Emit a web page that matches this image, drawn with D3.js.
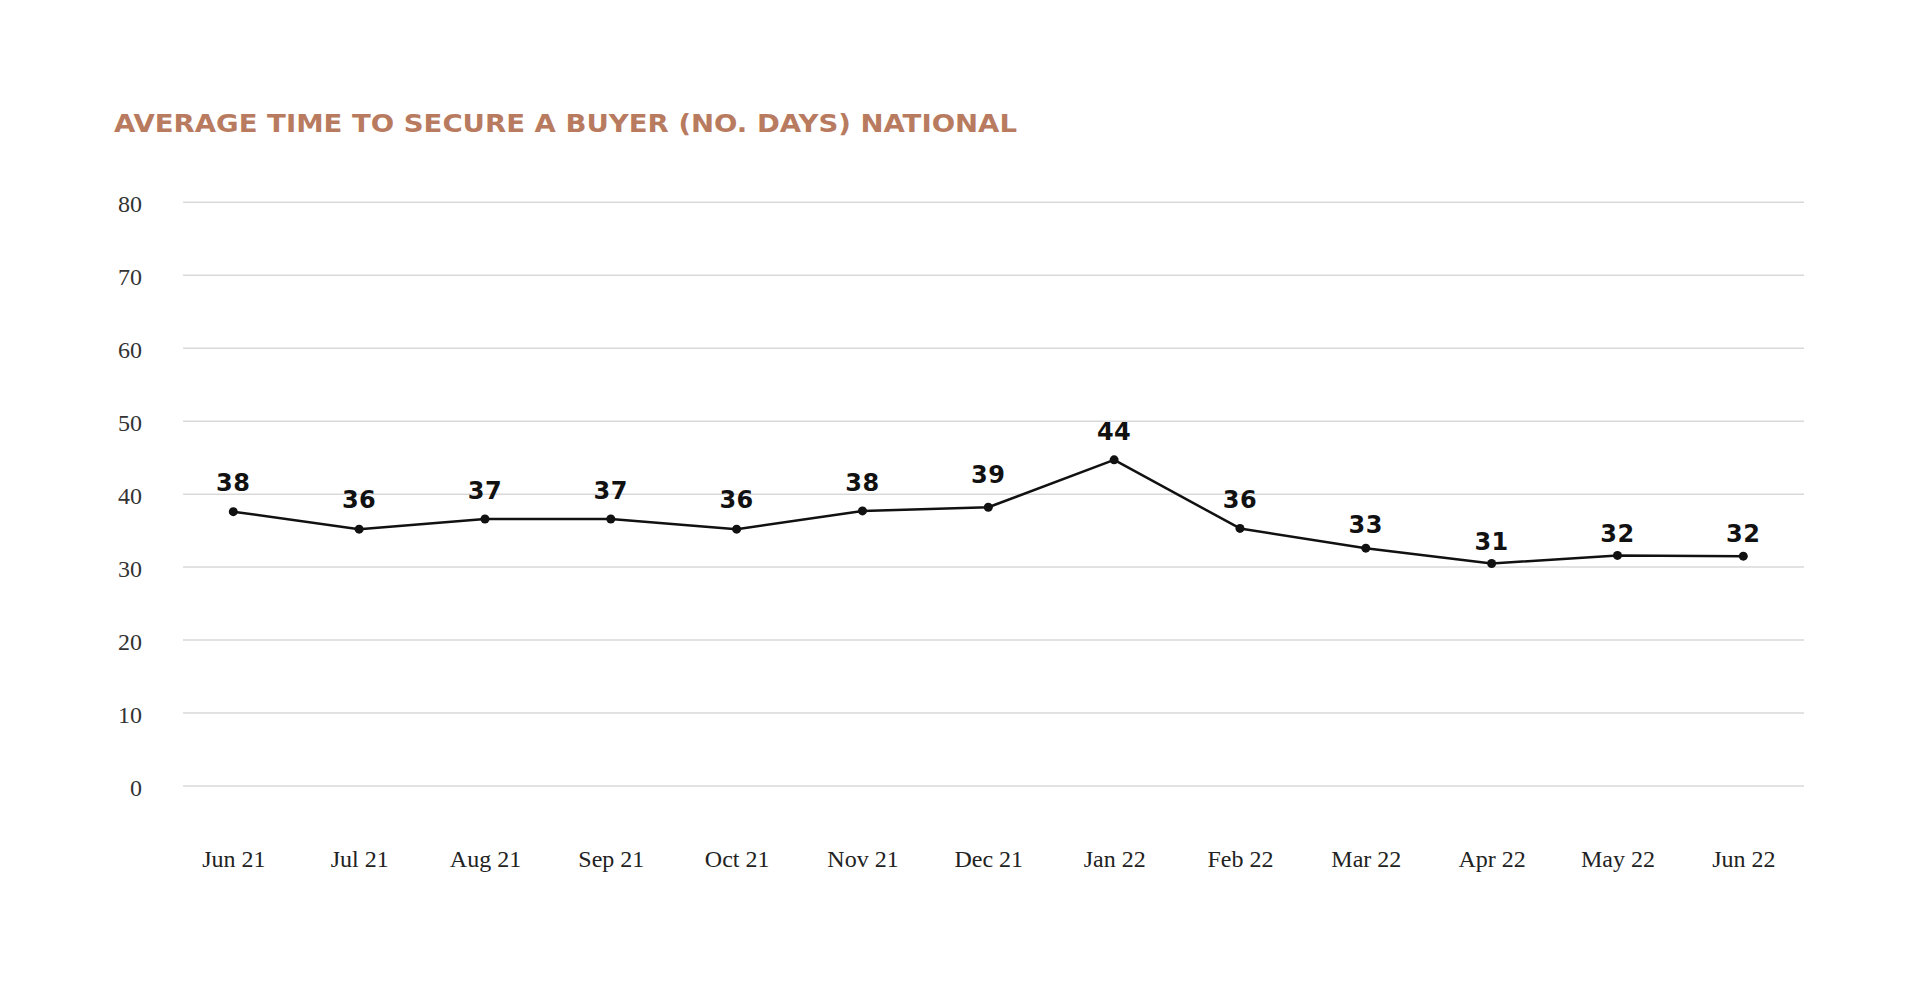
<!DOCTYPE html>
<html>
<head>
<meta charset="utf-8">
<script src="https://cdn.jsdelivr.net/npm/d3@7"></script>
<style>
  html, body { margin: 0; padding: 0; background: #ffffff; }
  svg { display: block; }
</style>
</head>
<body>
<svg id="chart" width="1920" height="982"></svg>
<script>
const title = "AVERAGE TIME TO SECURE A BUYER (NO. DAYS) NATIONAL";
const months = ["Jun 21","Jul 21","Aug 21","Sep 21","Oct 21","Nov 21","Dec 21","Jan 22","Feb 22","Mar 22","Apr 22","May 22","Jun 22"];
const values = [37.6, 35.2, 36.6, 36.6, 35.2, 37.7, 38.2, 44.7, 35.3, 32.6, 30.5, 31.6, 31.5];
const valueLabels = ["38","36","37","37","36","38","39","44","36","33","31","32","32"];
const yTicks = [0, 10, 20, 30, 40, 50, 60, 70, 80];

const svg = d3.select("#chart");

const x = d3.scalePoint().domain(months).range([233.3, 1743.3]);
const y = d3.scaleLinear().domain([0, 80]).range([786, 202.3]);
const gridX1 = 183, gridX2 = 1804;

// label placement scale (labels sit higher for larger values)
const labelY = v => y(v * 1.16) + 26.6;

// title
svg.append("text")
  .attr("x", 114).attr("y", 131.7)
  .attr("font-family", "'DejaVu Sans', sans-serif")
  .attr("font-weight", "bold")
  .attr("font-size", 25)
  .attr("fill", "#b87b60")
  .attr("textLength", 903)
  .attr("lengthAdjust", "spacingAndGlyphs")
  .text(title);

// gridlines
svg.append("g").selectAll("line").data(yTicks).join("line")
  .attr("x1", gridX1).attr("x2", gridX2)
  .attr("y1", d => y(d)).attr("y2", d => y(d))
  .attr("stroke", "#d9d9d9").attr("stroke-width", 1.5);

// y axis labels
const yAxis = d3.axisLeft(y).tickValues(yTicks).tickSize(0).tickPadding(0);
const gy = svg.append("g").attr("transform", "translate(142,0)").call(yAxis);
gy.select(".domain").remove();
gy.selectAll("text")
  .attr("font-family", "'Liberation Serif', 'Times New Roman', serif")
  .attr("font-size", 24)
  .attr("fill", "#333")
  .attr("dy", null)
  .attr("y", 9)
  .attr("x", 0);

// x axis labels
const xAxis = d3.axisBottom(x).tickSize(0).tickPadding(0);
const gx = svg.append("g").attr("transform", "translate(0,0)").call(xAxis);
gx.select(".domain").remove();
gx.selectAll("text")
  .attr("font-family", "'Liberation Serif', 'Times New Roman', serif")
  .attr("font-size", 24)
  .attr("fill", "#222")
  .attr("dy", null)
  .attr("y", 866.7);

// line
const line = d3.line().x((d, i) => x(months[i])).y(d => y(d));
svg.append("path")
  .datum(values)
  .attr("d", line)
  .attr("fill", "none")
  .attr("stroke", "#111")
  .attr("stroke-width", 2.5)
  .attr("stroke-linejoin", "round");

// points
svg.append("g").selectAll("circle").data(values).join("circle")
  .attr("cx", (d, i) => x(months[i]))
  .attr("cy", d => y(d))
  .attr("r", 4.5)
  .attr("fill", "#111");

// value labels
svg.append("g").selectAll("text").data(valueLabels).join("text")
  .attr("x", (d, i) => x(months[i]))
  .attr("y", d => labelY(+d))
  .attr("text-anchor", "middle")
  .attr("font-family", "'DejaVu Sans', sans-serif")
  .attr("font-weight", "bold")
  .attr("font-size", 24)
  .attr("letter-spacing", 0.5)
  .attr("fill", "#111")
  .text(d => d);
</script>
</body>
</html>
